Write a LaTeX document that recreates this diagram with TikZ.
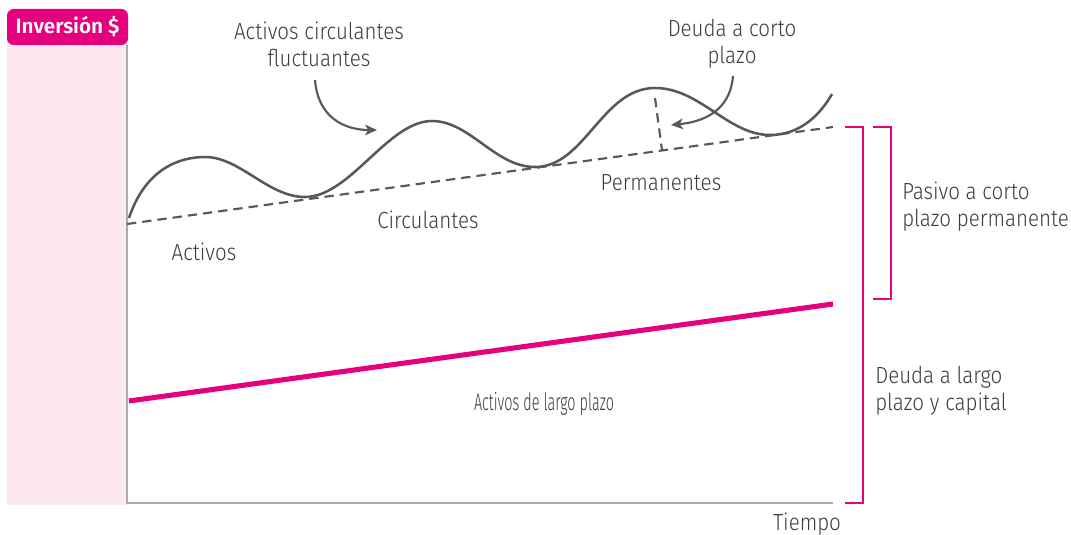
\documentclass[tikz,border=0pt]{standalone}
\usepackage{fontspec}
\setmainfont{Fira Sans Light}[FakeStretch=0.88]
\newfontfamily\condfont{Fira Sans Light}[FakeStretch=0.6]
\newfontfamily\hdrfont{Fira Sans SemiBold}
\usetikzlibrary{arrows.meta}
\definecolor{mag}{HTML}{E6007E}
\definecolor{bgpink}{HTML}{FDE8F1}
\definecolor{axisgray}{HTML}{ABABAD}
\definecolor{curvegray}{HTML}{58585A}
\definecolor{txt}{HTML}{3C3C3B}
\begin{document}
\begin{tikzpicture}[x=0.75pt,y=-0.75pt,
  lbl/.style={text=txt, font=\fontsize{17.5}{20.25}\selectfont, align=center, inner sep=0pt},
  axisline/.style={draw=axisgray, line width=2.2pt},
  wave/.style={draw=curvegray, line width=1.9pt},
  dashline/.style={draw=curvegray, line width=1.6pt, dash pattern=on 7pt off 4.5pt},
  pointer/.style={draw=curvegray, line width=1.6pt, -{Stealth[length=9pt,width=8pt,inset=2.5pt]}},
  brk/.style={draw=mag, line width=1.5pt},
  ltline/.style={draw=mag, line width=3.8pt}]
\useasboundingbox (0,0) rectangle (1071,535);
% background band
\fill[bgpink] (7,40) rectangle (127,505);
\node (hdr) [fill=mag, rounded corners=5pt, minimum width=90.75pt, minimum height=27pt, inner sep=0pt,
  text=white, font=\hdrfont\fontsize{15.5}{18}\selectfont] at (67.5,27) {Inversión \$};
% axes
\coordinate (ytop) at (127,45);
\coordinate (O) at (127,503);
\coordinate (xend) at (833,503);
\draw[axisline] (ytop) -- (O) -- (xend);
% long-term assets line
\coordinate (lt1) at (129,401);
\coordinate (lt2) at (833,304);
\draw[ltline] (lt1) -- (lt2);
% permanent current assets dashed line
\coordinate (d1) at (127,224);
\coordinate (d2) at (833,127);
\draw[dashline] (d1) -- (d2);
% small dashed vertical
\coordinate (v1) at (655,98);
\coordinate (v2) at (662,150);
\draw[dashline] (v1) -- (v2);
% fluctuating curve
\draw[wave] (129,218) .. controls (145,170) and (178,157) .. (205,157)
  .. controls (240,157) and (268,197) .. (305,197)
  .. controls (350,197) and (388,121) .. (432,121)
  .. controls (470,121) and (495,167) .. (535,167)
  .. controls (585,167) and (602,88) .. (655,88)
  .. controls (700,88) and (728,135) .. (770,135)
  .. controls (800,135) and (820,115) .. (832,94);
% labels
\node[lbl] (acf) at (319,44) {Activos circulantes\\fluctuantes};
\node[lbl] (dcp) at (732,44) {Deuda a corto\\plazo};
\node[lbl] (perm) at (661,183) {Permanentes};
\node[lbl] (circ) at (428,220) {Circulantes};
\node[lbl] (act) at (204,252) {Activos};
\node[lbl, align=left, anchor=west] (pcp) at (902,207) {Pasivo a corto\\plazo permanente};
\node[lbl, align=left, anchor=west] (dlp) at (875,391) {Deuda a largo\\plazo y capital};
\node[lbl, font=\condfont\fontsize{18}{20.25}\selectfont] (alp) at (544,404) {Activos de largo plazo};
\node[lbl] (tiempo) at (807,524) {Tiempo};
% pointer arrows
\coordinate (a1s) at (315,80);
\coordinate (a1e) at (377,130);
\draw[pointer] (a1s) .. controls (318,118) and (345,130) .. (a1e);
\coordinate (a2s) at (733,76);
\coordinate (a2e) at (671,125);
\draw[pointer] (a2s) .. controls (730,112) and (702,122) .. (a2e);
% brackets
\draw[brk] (845,127) -- (863,127) -- (863,503) -- (845,503);
\draw[brk] (873,127) -- (891,127) -- (891,299) -- (873,299);
\end{tikzpicture}
\end{document}
